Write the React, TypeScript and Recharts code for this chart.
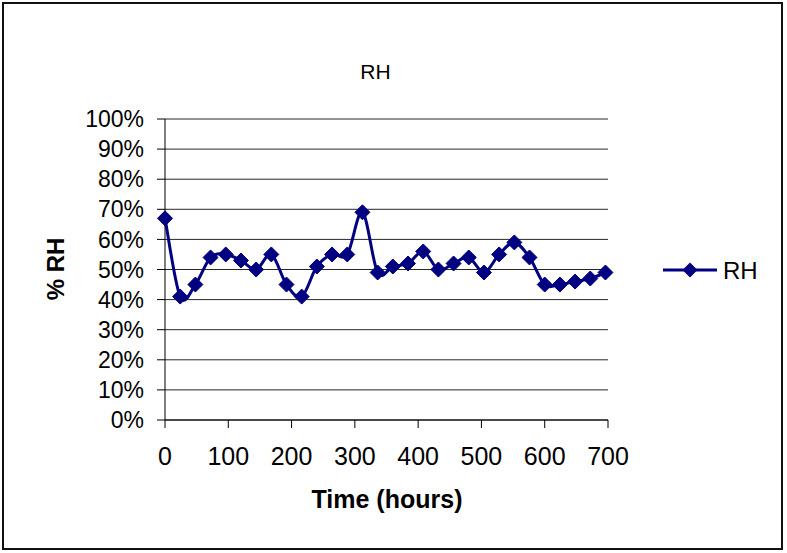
import { LineChart, Line, XAxis, YAxis, CartesianGrid } from "recharts";

const hours = [0, 24, 48, 72, 96, 120, 144, 168, 192, 216, 240, 264, 288, 312, 336, 360, 384, 408, 432, 456, 480, 504, 528, 552, 576, 600, 624, 648, 672, 696];
const rh = [67, 41, 45, 54, 55, 53, 50, 55, 45, 41, 51, 55, 55, 69, 49, 51, 52, 56, 50, 52, 54, 49, 55, 59, 54, 45, 45, 46, 47, 49];
const xTicks = [0, 100, 200, 300, 400, 500, 600, 700];
const yTicks = [0, 10, 20, 30, 40, 50, 60, 70, 80, 90, 100];

const data = hours.map((h, i) => ({ hours: h, rh: rh[i] }));

const NAVY = "#000080";
const FONT = "'Liberation Sans', Arial, sans-serif";

// Excel-style smoothing: bezier with control points at 1/6 of neighbour deltas
function excelCurve(context: any) {
  let pts: number[][] = [];
  return {
    areaStart() {},
    areaEnd() {},
    lineStart() {
      pts = [];
    },
    point(x: number, y: number) {
      pts.push([+x, +y]);
    },
    lineEnd() {
      if (!pts.length) return;
      context.moveTo(pts[0][0], pts[0][1]);
      for (let i = 0; i < pts.length - 1; i++) {
        const p0 = pts[i - 1] || pts[i];
        const p1 = pts[i];
        const p2 = pts[i + 1];
        const p3 = pts[i + 2] || pts[i + 1];
        context.bezierCurveTo(
          p1[0] + (p2[0] - p0[0]) / 6,
          p1[1] + (p2[1] - p0[1]) / 6,
          p2[0] - (p3[0] - p1[0]) / 6,
          p2[1] - (p3[1] - p1[1]) / 6,
          p2[0],
          p2[1]
        );
      }
    },
  };
}

const Diamond = (props: any) => {
  const { cx, cy } = props;
  if (cx == null || cy == null) return null;
  const r = 7.5;
  return (
    <polygon
      points={`${cx},${cy - r} ${cx + r},${cy} ${cx},${cy + r} ${cx - r},${cy}`}
      fill={NAVY}
      stroke={NAVY}
    />
  );
};

export default function App() {
  return (
    <div style={{ position: "absolute", left: 0, top: 0, width: 787, height: 553, background: "#fff", fontFamily: FONT }}>
      <style>{`body{margin:0}`}</style>
      <div
        style={{
          position: "absolute",
          left: 2,
          top: 2,
          width: 781,
          height: 548,
          border: "2px solid #111",
          boxSizing: "border-box",
        }}
      />
      <div style={{ position: "absolute", left: 0, width: 751, top: 60, textAlign: "center", fontSize: 21 }}>RH</div>

      <LineChart
        width={787}
        height={553}
        data={data}
        margin={{ top: 119, right: 179, bottom: 103, left: 0 }}
        style={{ position: "absolute", left: 0, top: 0 }}
      >
        <CartesianGrid vertical={false} stroke="#000" strokeOpacity={0.85} />
        <XAxis
          dataKey="hours"
          type="number"
          domain={[0, 700]}
          ticks={xTicks}
          interval={0}
          stroke="#000"
          tickSize={8}
          tickMargin={19}
          height={30}
          tick={{ fill: "#000", fontSize: 25, fontFamily: FONT }}
          label={{
            content: () => (
              <text x={387} y={508} textAnchor="middle" fontSize={25} fontWeight="bold" fontFamily={FONT} fill="#000">
                Time (hours)
              </text>
            ),
          }}
        />
        <YAxis
          type="number"
          domain={[0, 100]}
          ticks={yTicks}
          interval={0}
          width={165}
          stroke="#000"
          tickSize={8}
          tickMargin={13}
          tickFormatter={(v) => `${v}%`}
          tick={{ fill: "#000", fontSize: 23, fontFamily: FONT }}
          label={{
            content: () => (
              <text
                x={64}
                y={269}
                transform="rotate(-90 64 269)"
                textAnchor="middle"
                fontSize={24}
                fontWeight="bold"
                fontFamily={FONT}
                fill="#000"
              >
                % RH
              </text>
            ),
          }}
        />
        <Line
          dataKey="rh"
          type={excelCurve as any}
          stroke={NAVY}
          strokeWidth={3}
          dot={<Diamond />}
          activeDot={false}
          isAnimationActive={false}
        />
      </LineChart>

      <svg style={{ position: "absolute", left: 655, top: 255 }} width={130} height={30}>
        <line x1={8} y1={15} x2={62} y2={15} stroke={NAVY} strokeWidth={3} />
        <polygon points="35,7.5 42.5,15 35,22.5 27.5,15" fill={NAVY} />
        <text x={68} y={24} fontSize={24} fontFamily={FONT} fill="#000">
          RH
        </text>
      </svg>
    </div>
  );
}
